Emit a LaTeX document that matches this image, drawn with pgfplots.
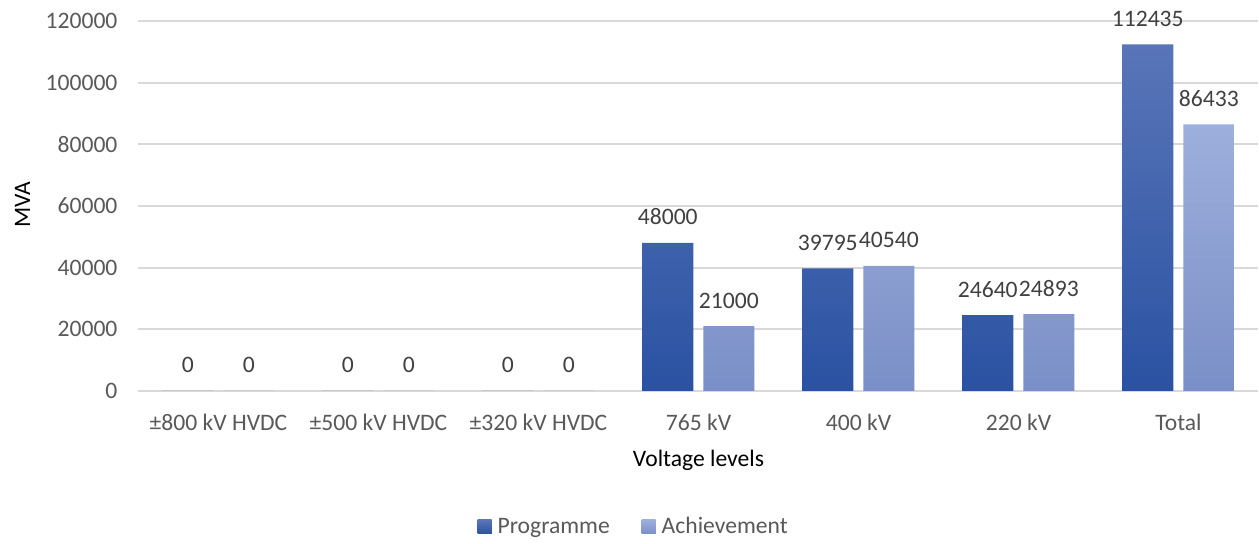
\documentclass[border=0pt]{standalone}
\usepackage{fontspec}
\setmainfont{Carlito}
\usepackage{pgfplots}
\pgfplotsset{compat=1.18}
\definecolor{txt}{HTML}{595959}
\definecolor{lbl}{HTML}{404040}
\definecolor{gridc}{HTML}{D9D9D9}
\definecolor{progTop}{HTML}{5975B8}
\definecolor{progBot}{HTML}{2A52A2}
\definecolor{achTop}{HTML}{9DAFDC}
\definecolor{achBot}{HTML}{7A8FC7}
\definecolor{progLeg}{HTML}{3459A8}
\definecolor{achLeg}{HTML}{8EA2D4}
\begin{document}
\begin{tikzpicture}[font=\fontsize{11.8}{14}\selectfont]
\path[use as bounding box] (-69.25pt,-76.5pt) rectangle (560.25pt,195.5pt);
\begin{axis}[
  at={(0,0)}, anchor=south west,
  scale only axis, width=560pt, height=185pt,
  xmin=-0.5, xmax=6.5, ymin=0, ymax=120000,
  ytick={0,20000,...,120000},
  xtick={0,...,6},
  xticklabels={{±800 kV HVDC},{±500 kV HVDC},{±320 kV HVDC},{765 kV},{400 kV},{220 kV},{Total}},
  scaled y ticks=false,
  /pgf/number format/assume math mode=true,
  /pgf/number format/.cd, fixed, 1000 sep={}, /pgfplots/.cd,
  axis line style={draw=none},
  major tick length=0pt,
  xmajorgrids=false, ymajorgrids=true,
  major grid style={draw=gridc, line width=0.9pt},
  tick label style={text=txt},
  yticklabel style={xshift=-7pt},
  xticklabel style={yshift=-8pt},
  xlabel={Voltage levels},
  ylabel={MVA},
  label style={text=txt},
  every axis x label/.style={at={(axis description cs:0.5,0)}, yshift=-34.5pt, anchor=center},
  every axis y label/.style={at={(axis description cs:-0.1036,0.503)}, rotate=90, anchor=center},
  clip=false,
  ybar, bar width=0.32,
  nodes near coords,
  every node near coord/.append style={text=lbl, anchor=base, yshift=9pt, inner sep=0pt},
  legend style={at={(axis description cs:0.443,0)}, yshift=-68pt, anchor=center, draw=none, legend columns=2, text=txt,
    /tikz/every odd column/.append style={column sep=1pt},
    /tikz/every even column/.append style={column sep=14pt}},
]
\addplot[draw=none, shading=axis, top color=progTop, bottom color=progBot, bar shift=-0.192,
  legend image code/.code={\fill[progLeg] (0pt,-3.5pt) rectangle (7pt,3.5pt);}] coordinates {(0,0) (1,0) (2,0) (3,48000) (4,39795) (5,24640) (6,112435)};
\addplot[draw=none, shading=axis, top color=achTop, bottom color=achBot, bar shift=0.19,
  legend image code/.code={\fill[achLeg] (0pt,-3.5pt) rectangle (7pt,3.5pt);}] coordinates {(0,0) (1,0) (2,0) (3,21000) (4,40540) (5,24893) (6,86433)};
\legend{Programme, Achievement}
\end{axis}
\end{tikzpicture}
\end{document}
